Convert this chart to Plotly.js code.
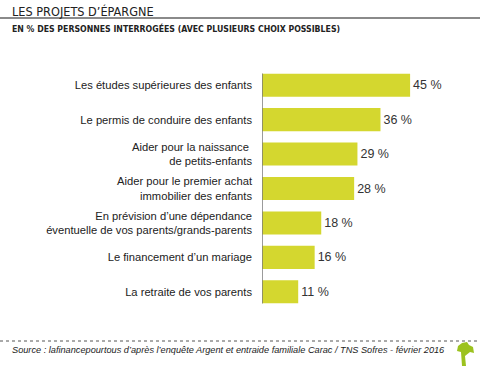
<!DOCTYPE html>
<html>
<head>
<meta charset="utf-8">
<script src="https://cdn.plot.ly/plotly-3.0.1.min.js"></script>
<style>html,body{margin:0;padding:0;background:#fff;}#chart{width:480px;height:366px;}</style>
</head>
<body>
<div id="chart"></div>
<script>
const categories = [
  "Les études supérieures des enfants",
  "Le permis de conduire des enfants",
  "Aider pour la naissance <br>de petits-enfants",
  "Aider pour le premier achat<br>immobilier des enfants",
  "En prévision d’une dépendance<br>éventuelle de vos parents/grands-parents",
  "Le financement d’un mariage",
  "La retraite de vos parents"
];
const values = [45, 36, 29, 28, 18, 16, 11];
const valueLabels = ["45 %", "36 %", "29 %", "28 %", "18 %", "16 %", "11 %"];
const titleText = "LES PROJETS D’ÉPARGNE";
const subtitleText = "EN % DES PERSONNES INTERROGÉES (AVEC PLUSIEURS CHOIX POSSIBLES)";
const sourceText = "Source : lafinancepourtous d’après l’enquête Argent et entraide familiale Carac / TNS Sofres - février 2016";

const FONT = "Liberation Sans, Arial, sans-serif";
const COND = "DejaVu Sans Condensed, Liberation Sans, sans-serif";

const trace = {
  type: "bar",
  orientation: "h",
  y: categories,
  x: values,
  text: valueLabels,
  textposition: "outside",
  textfont: {family: FONT, size: 12.5, color: "#333"},
  cliponaxis: false,
  width: 0.67,
  marker: {color: "#d4d72f", line: {width: 0}},
  hoverinfo: "none"
};

const layout = {
  width: 480, height: 366,
  margin: {l: 262, r: 10, t: 68, b: 57},
  paper_bgcolor: "#fff", plot_bgcolor: "#fff",
  showlegend: false,
  xaxis: {range: [0, 63.2], visible: false, fixedrange: true},
  yaxis: {
    autorange: "reversed", type: "category",
    showline: false, showgrid: false, zeroline: false, ticks: "",
    ticklabelstandoff: 9,
    tickfont: {family: FONT, size: 11.2, color: "#222"}
  },
  shapes: [
    {type: "line", xref: "x", yref: "y", x0: 0, x1: 0, y0: -0.34, y1: 6.34, line: {color: "#7a7a7a", width: 1.5}}
  ],
  annotations: [
    {text: titleText, xref: "paper", yref: "paper", showarrow: false, xanchor: "left", yanchor: "middle",
     x: -252/208, y: 1 + (68-12)/241, font: {family: COND, size: 12.6, color: "#222"}},
    {text: "<b>" + subtitleText + "</b>", xref: "paper", yref: "paper", showarrow: false, xanchor: "left", yanchor: "middle",
     x: -252/208, y: 1 + (68-29)/241, font: {family: COND, size: 8.7, color: "#222"}},
    {text: "<i>" + sourceText + "</i>", xref: "paper", yref: "paper", showarrow: false, xanchor: "left", yanchor: "middle",
     x: -252/208, y: -(350-309)/241, font: {family: FONT, size: 9.2, color: "#222"}}
  ]
};

// decorative rules (paper coordinates)
const px = v => (v - 262) / 208;
const py = v => (309 - v) / 241;
layout.shapes.push({type: "line", xref: "paper", yref: "paper", x0: px(0), x1: px(480), y0: py(18), y1: py(18), line: {color: "#8a8a8a", width: 2}});
layout.shapes.push({type: "line", xref: "paper", yref: "paper", x0: px(0), x1: px(480), y0: py(341), y1: py(341), line: {color: "#555", width: 1, dash: "dot"}});
// tree logo
const P = (x, y) => px(x) + "," + py(y);
layout.shapes.push({type: "path", xref: "paper", yref: "paper",
  path: "M " + P(462,366) + " L " + P(466,366) + " L " + P(465,356) + " L " + P(470,352) + " L " + P(474,353) +
        " L " + P(473,347) + " L " + P(469,345) + " L " + P(467,342) + " L " + P(462,343) + " L " + P(458,346) +
        " L " + P(457,351) + " L " + P(461,352) + " Z",
  fillcolor: "#9cc21f", line: {width: 0}});

Plotly.newPlot("chart", [trace], layout, {displayModeBar: false, staticPlot: true});
</script>
</body>
</html>
